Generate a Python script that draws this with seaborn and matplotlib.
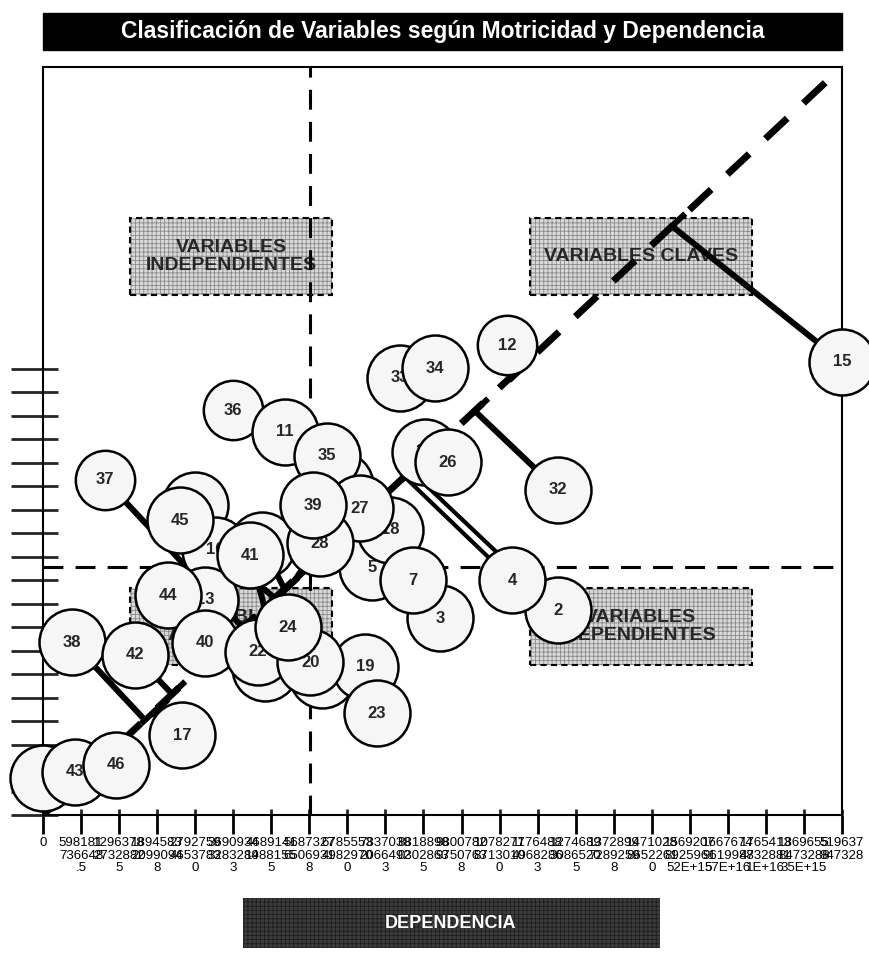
import numpy as np
import pandas as pd
import matplotlib
matplotlib.use("Agg")
import matplotlib.pyplot as plt
from matplotlib.patches import Rectangle
import seaborn as sns

# 1. Data (axis units = tick steps)
etiquetas = ["", "43", "46", "17", "38", "42", "37", "36", "11", "29", "35",
             "10", "16", "45", "13", "44", "40", "14", "41", "3", "5", "18",
             "27", "28", "39", "7", "33", "34", "30", "26", "12", "32", "2",
             "4", "15", "25", "22", "21", "19", "20", "24", "23"]
dependencia = [0.0, 0.84, 1.92, 3.65, 0.76, 2.42, 1.63, 4.99, 6.36, 7.81, 7.46,
               3.99, 4.52, 3.60, 4.26, 3.29, 4.26, 5.76, 5.44, 10.43, 8.65, 9.12,
               8.33, 7.28, 7.10, 9.72, 9.38, 10.30, 10.04, 10.64, 12.19, 13.53, 13.53,
               12.33, 21.0, 5.83, 5.65, 7.33, 8.46, 7.02, 6.44, 8.78]
motricidad = [1.57, 1.83, 2.13, 3.40, 7.36, 6.81, 14.26, 17.23, 16.30, 14.04, 15.28,
              13.19, 11.28, 12.55, 9.15, 9.36, 7.32, 11.49, 11.06, 8.38, 10.55, 12.13,
              13.06, 11.57, 13.19, 10.00, 18.60, 19.02, 15.45, 15.02, 20.00, 13.83, 8.72,
              10.00, 19.28, 6.26, 6.94, 5.96, 6.30, 6.51, 8.00, 4.34]
tamano = [1.0] * len(etiquetas)
for k in ("12", "36", "37"):
    tamano[etiquetas.index(k)] = 0.9

df = pd.DataFrame({"x": dependencia, "y": motricidad, "lab": etiquetas, "t": tamano})

# leader lines from a bubble to the bisector
lider_id = ["15", "32", "4", "2", "38", "42", "17", "37", "12", "41", "16", "14", "28"]
lider_x = [16.53, 11.35, 9.51, 9.67, 2.68, 3.39, 2.94, 5.26, 12.35, 5.83, 6.10, 6.36, 6.62]
lider_y = [25.06, 17.19, 14.38, 14.64, 4.04, 5.15, 4.38, 7.96, 18.64, 8.81, 9.23, 9.57, 10.0]

x_max, y_max = 21, 31.83
media_x, media_y = 7.02, 10.55

cuadrantes = ["VARIABLES\nINDEPENDIENTES", "VARIABLES CLAVES",
              "VARIABLES\nDEPENDIENTES", "VARIABLES\nAUTONOMAS"]

xtick_labels = ["0",
    "598181\n736648\n.5", "1296378\n2732882\n5", "1894583\n2099094\n8",
    "2792759\n4653783\n0", "3690934\n3283284\n3", "4689141\n1988155\n5",
    "5687327\n6506931\n8", "6785553\n4982970\n0", "7837038\n2066492\n3",
    "8818898\n0302863\n5", "9800782\n9750763\n8", "1078277\n8713010\n0",
    "1176488\n4968286\n3", "1274689\n3086520\n5", "1372899\n7289259\n8",
    "1471028\n8652261\n0", "1569207\n8925961\n52E+15", "1667674\n9619988\n57E+16",
    "1765413\n4732881\n1E+16", "1869655\n8473288\n35E+15", "519637\n847328\n"]

# 2. Figure
sns.set_theme(style="white")
plt.rcParams["font.family"] = ["Liberation Sans", "DejaVu Sans"]
plt.rcParams["hatch.linewidth"] = 0.6

fig = plt.figure(figsize=(8.69, 9.64), dpi=100)
ax = fig.add_axes([43 / 869, 1 - 815 / 964, 799 / 869, 748 / 964])
ax.set_xlim(0, x_max)
ax.set_ylim(0, y_max)

for s in ax.spines.values():
    s.set_color("black")
    s.set_linewidth(1.5)

ax.set_xticks(range(22))
ax.set_xticklabels(xtick_labels, fontsize=9.5, linespacing=1.05)
ax.set_xticks(range(22), minor=True)
ax.set_yticks(range(20))
ax.set_yticklabels([])
ax.set_yticks(range(20), minor=True)
ax.xaxis.remove_overlapping_locs = False
ax.yaxis.remove_overlapping_locs = False
ax.tick_params(axis="x", which="major", bottom=True, direction="out", length=14,
               width=2, pad=2, colors="black")
ax.tick_params(axis="x", which="minor", bottom=True, direction="in", length=4, width=2)
ax.tick_params(axis="y", which="major", left=True, direction="out", length=23, width=2)
ax.tick_params(axis="y", which="minor", left=True, direction="in", length=11, width=2)

# quadrant boxes
cajas = [(2.29, 22.13, 5.3, 3.27), (12.8, 22.13, 5.83, 3.27),
         (12.8, 6.38, 5.83, 3.27), (2.29, 6.38, 5.3, 3.27)]
for (x0, y0, w, h), txt in zip(cajas, cuadrantes):
    ax.add_patch(Rectangle((x0, y0), w, h, facecolor="#d9d9d9", hatch="++++",
                           edgecolor="#8a8a8a", linewidth=0, zorder=2))
    ax.add_patch(Rectangle((x0, y0), w, h, fill=False, edgecolor="black",
                           linestyle=(0, (3, 2)), linewidth=1.5, zorder=2.5))
    ax.text(x0 + w / 2, y0 + h / 2, txt, ha="center", va="center", fontsize=14,
            fontweight="bold", linespacing=1.05, zorder=3)

# mean lines and bisector
ax.axvline(media_x, color="black", lw=2.2, dashes=(6.5, 4), zorder=4)
ax.axhline(media_y, color="black", lw=2.2, dashes=(6.5, 4), zorder=4)
ax.plot([0, x_max], [0, y_max], color="black", lw=5, dashes=(4.3, 3.2), zorder=4)

# leader lines with T caps
pend = y_max / x_max
pos = df.set_index("lab")
for lid, fx, fy in zip(lider_id, lider_x, lider_y):
    bx, by = pos.loc[lid, "x"], pos.loc[lid, "y"]
    lw = 3 if lid in ("4", "2") else 4.3
    ax.plot([bx, fx], [by, fy], color="black", lw=lw, solid_capstyle="butt", zorder=5)
    c = 0.25
    ax.plot([fx - c * 0.4, fx + c * 1.4], [fy - c * 0.4 * pend, fy + c * 1.4 * pend],
            color="black", lw=4.3, solid_capstyle="butt", zorder=5)

# bubbles, one by one so later ones cover earlier labels
for i, r in enumerate(df.itertuples()):
    sns.scatterplot(x=[r.x], y=[r.y], s=2256 * r.t ** 2, color="#f6f6f6",
                    edgecolor="black", linewidth=1.8, zorder=10 + 2 * i,
                    ax=ax, legend=False, clip_on=False)
    ax.text(r.x, r.y, r.lab, ha="center", va="center", fontsize=12,
            fontweight="bold", zorder=11 + 2 * i)

# title bar and axis label bar
fig.patches.append(Rectangle((43 / 869, 1 - 50 / 964), 799 / 869, 37 / 964,
                             transform=fig.transFigure, facecolor="black",
                             edgecolor="black", zorder=1))
fig.text(0.51, 1 - 31.5 / 964, "Clasificación de Variables según Motricidad y Dependencia",
         color="white", fontsize=16.5, fontweight="bold", ha="center", va="center")
fig.patches.append(Rectangle((243 / 869, 1 - 948 / 964), 417 / 869, 50 / 964,
                             transform=fig.transFigure, facecolor="#3c3c3c",
                             hatch="++++", edgecolor="#1e1e1e", linewidth=0, zorder=1))
fig.text(451 / 869, 1 - 923 / 964, "DEPENDENCIA", color="white", fontsize=13,
         fontweight="bold", ha="center", va="center")

fig.savefig("out.png", dpi=100)
